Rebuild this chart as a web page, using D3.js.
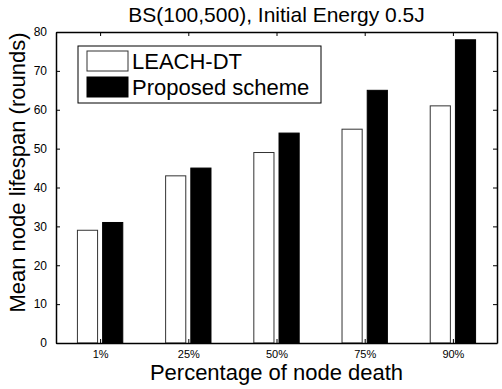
<!DOCTYPE html>
<html>
<head>
<meta charset="utf-8">
<script src="https://cdn.jsdelivr.net/npm/d3@7"></script>
<style>
  body { margin: 0; background: #fff; }
  text { font-family: "Liberation Sans", Arial, sans-serif; fill: #000; }
</style>
</head>
<body>
<div id="chart"></div>
<script>
// data
var categories = ["1%", "25%", "50%", "75%", "90%"];
var leachDT = [29, 43, 49, 55, 61];
var proposed = [31, 45, 54, 65, 78];
var seriesNames = ["LEACH-DT", "Proposed scheme"];
var yTicks = [0, 10, 20, 30, 40, 50, 60, 70, 80];

var svgWidth = 502;
var svgHeight = 389;

var margin = { top: 32, right: 5, bottom: 46, left: 56 };
var width = svgWidth - margin.left - margin.right;
var height = svgHeight - margin.top - margin.bottom;

var svg = d3.select("#chart")
  .append("svg")
  .attr("width", svgWidth)
  .attr("height", svgHeight);

var chartGroup = svg.append("g")
  .attr("transform", `translate(${margin.left}, ${margin.top})`);

// x: category index 1..5, like matlab's bar()
var xScale = d3.scaleLinear()
  .domain([0.5, categories.length + 0.5])
  .range([0, width]);

var yScale = d3.scaleLinear()
  .domain([0, 80])
  .range([height, 0]);

// grouped bar geometry (2 series)
var groupWidth = 2 / 3.5;
var barW = 0.8 * groupWidth / 2;
var offsets = [-groupWidth / 4, groupWidth / 4];

var series = [
  { name: seriesNames[0], values: leachDT, fill: "#fff", stroke: "#333" },
  { name: seriesNames[1], values: proposed, fill: "#000", stroke: "#000" }
];

series.forEach(function(s, si) {
  chartGroup.selectAll(".bar" + si)
    .data(s.values)
    .enter()
    .append("rect")
    .attr("class", "bar" + si)
    .attr("x", (d, i) => xScale(i + 1 + offsets[si] - barW / 2))
    .attr("width", xScale(barW) - xScale(0))
    .attr("y", d => yScale(d))
    .attr("height", d => height - yScale(d))
    .attr("fill", s.fill)
    .attr("stroke", s.stroke)
    .attr("stroke-width", 1);
});

// axes (inward ticks, box on all sides)
var tickLen = 4;
var xTickVals = categories.map((c, i) => i + 1);

var bottomAxis = d3.axisBottom(xScale)
  .tickValues(xTickVals)
  .tickFormat((d, i) => categories[i])
  .tickSizeInner(-tickLen)
  .tickSizeOuter(0)
  .tickPadding(7);

var topAxis = d3.axisTop(xScale)
  .tickValues(xTickVals)
  .tickFormat("")
  .tickSizeInner(-tickLen)
  .tickSizeOuter(0);

var leftAxis = d3.axisLeft(yScale)
  .tickValues(yTicks)
  .tickSizeInner(-tickLen)
  .tickSizeOuter(0)
  .tickPadding(9);

var rightAxis = d3.axisRight(yScale)
  .tickValues(yTicks)
  .tickFormat("")
  .tickSizeInner(-tickLen)
  .tickSizeOuter(0);

var gx = chartGroup.append("g")
  .attr("transform", `translate(0, ${height})`)
  .call(bottomAxis);
var gt = chartGroup.append("g").call(topAxis);
var gy = chartGroup.append("g").call(leftAxis);
var gr = chartGroup.append("g")
  .attr("transform", `translate(${width}, 0)`)
  .call(rightAxis);

[gx, gt, gy, gr].forEach(function(g) {
  g.selectAll(".domain").attr("stroke", "#000").attr("stroke-width", 1.5);
  g.selectAll(".tick line").attr("stroke", "#000");
  g.selectAll("text")
    .style("font-family", "'Liberation Sans', Arial, sans-serif")
    .style("font-size", "12px")
    .attr("fill", "#000");
});
gx.selectAll("text").style("font-size", "11px");

// titles
svg.append("text")
  .attr("x", margin.left + width / 2)
  .attr("y", 22)
  .attr("text-anchor", "middle")
  .style("font-size", "21px")
  .text("BS(100,500), Initial Energy 0.5J");

svg.append("text")
  .attr("x", margin.left + width / 2)
  .attr("y", 380)
  .attr("text-anchor", "middle")
  .style("font-size", "22px")
  .text("Percentage of node death");

svg.append("text")
  .attr("transform", "rotate(-90)")
  .attr("x", -(margin.top + height / 2) + 15)
  .attr("y", 25)
  .attr("text-anchor", "middle")
  .style("font-size", "22px")
  .text("Mean node lifespan (rounds)");

// legend
var legend = svg.append("g").attr("transform", "translate(78, 46)");
legend.append("rect")
  .attr("width", 243)
  .attr("height", 57)
  .attr("fill", "#fff")
  .attr("stroke", "#000")
  .attr("stroke-width", 1);

series.forEach(function(s, i) {
  var row = legend.append("g").attr("transform", `translate(9, ${5 + i * 26})`);
  row.append("rect")
    .attr("width", 41)
    .attr("height", 20)
    .attr("fill", s.fill)
    .attr("stroke", s.stroke);
  row.append("text")
    .attr("x", 45)
    .attr("y", 18)
    .style("font-size", "22px")
    .text(s.name);
});
</script>
</body>
</html>
